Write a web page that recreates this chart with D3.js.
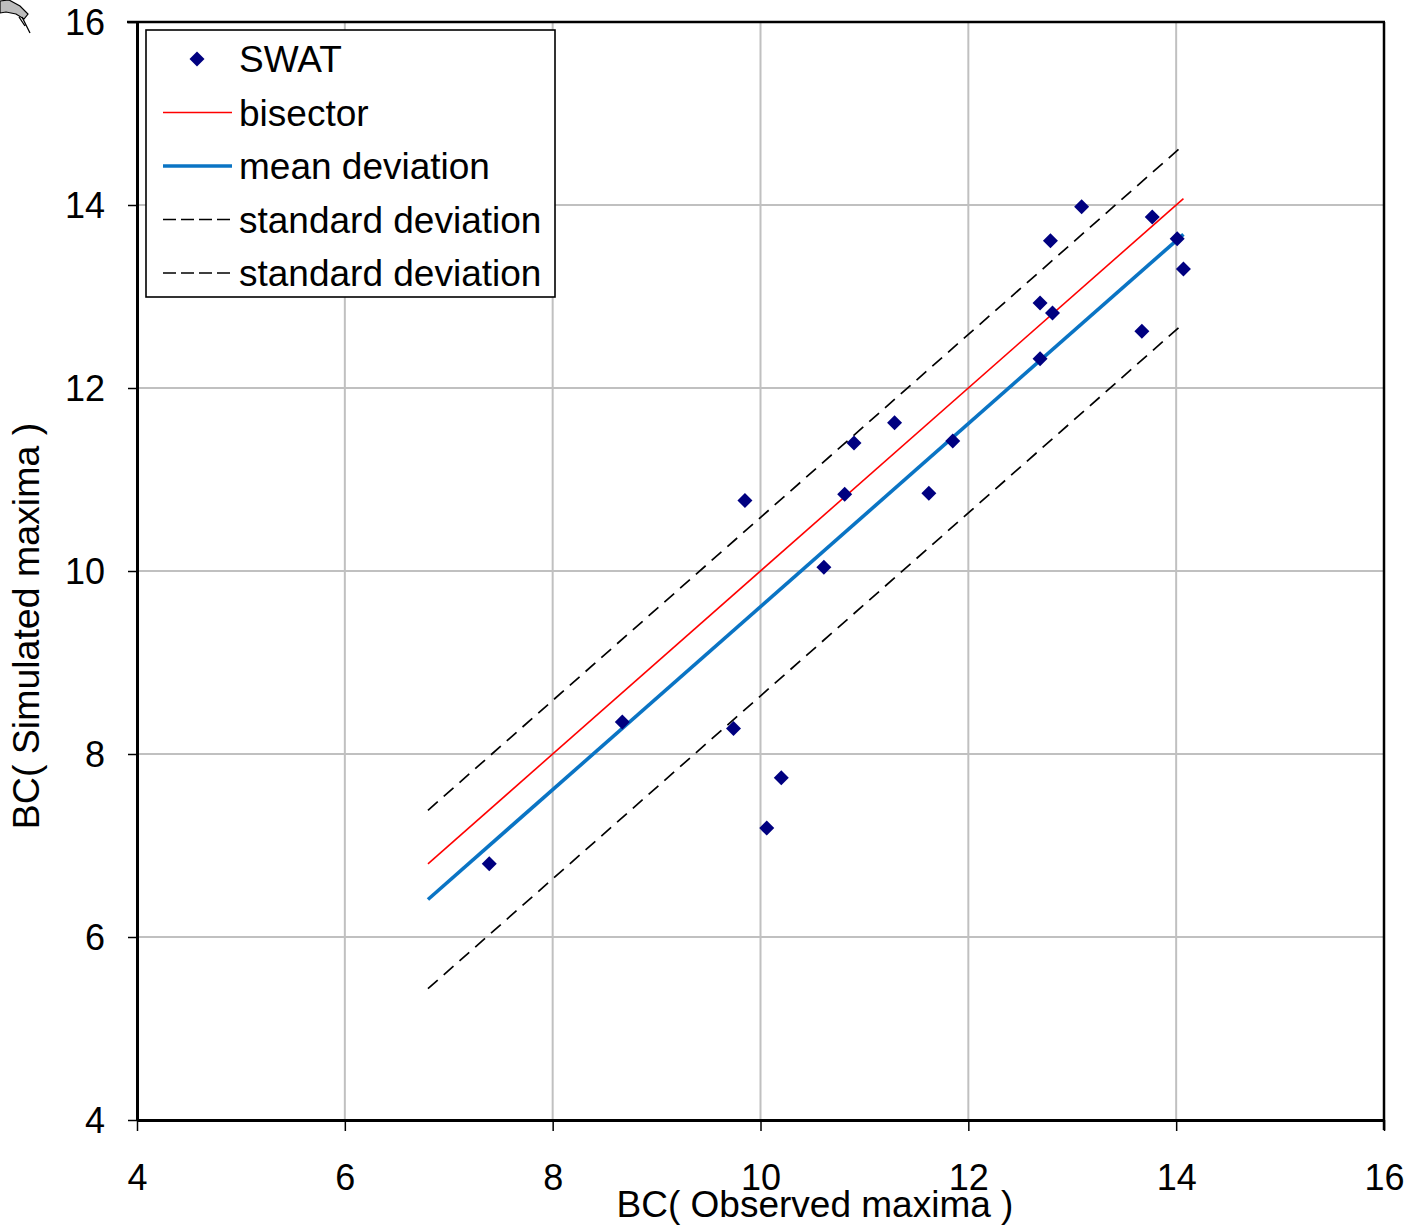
<!DOCTYPE html>
<html>
<head>
<meta charset="utf-8">
<script src="https://cdn.jsdelivr.net/npm/d3@7"></script>
<style>
  html, body { margin: 0; padding: 0; background: #fff; }
  svg { display: block; font-family: "Liberation Sans", Arial, sans-serif; }
</style>
</head>
<body>
<svg id="chart" width="1412" height="1227"></svg>
<script>
// ---- data ----
const observed  = [7.39, 8.67, 9.74, 9.85, 10.06, 10.20, 10.61, 10.81, 10.90, 11.29, 11.62, 11.85, 12.69, 12.69, 12.79, 12.81, 13.09, 13.67, 13.77, 14.01, 14.07];
const simulated = [6.80, 8.35, 8.28, 10.77, 7.19, 7.74, 10.04, 10.84, 11.40, 11.62, 10.85, 11.42, 12.32, 12.93, 13.61, 12.82, 13.98, 12.62, 13.87, 13.63, 13.30];
const lineRange = [6.80, 14.07];      // x extent of the reference lines
const meanDeviation = -0.39;          // offset of the mean-deviation line
const standardDeviation = 0.975;      // half-width of the dashed band
const xTicks = [4, 6, 8, 10, 12, 14, 16];
const yTicks = [4, 6, 8, 10, 12, 14, 16];
const legendLabels = ["SWAT", "bisector", "mean deviation", "standard deviation", "standard deviation"];
const xTitle = "BC( Observed maxima )";
const yTitle = "BC( Simulated maxima )";

(function () {
// ---- layout ----
const pL = 137, pR = 1384, pT = 22, pB = 1120;
const svg = d3.select("#chart");
const x = d3.scaleLinear().domain([4, 16]).range([pL, pR]);
const y = d3.scaleLinear().domain([4, 16]).range([pB, pT]);

const gridColor = "#c0c0c0";
const markerColor = "#000080";
const redColor = "#ff0000";
const blueColor = "#0a74c4";

// gridlines
svg.append("g").selectAll("line").data(xTicks.filter(t => t > 4 && t < 16)).join("line")
  .attr("x1", d => x(d)).attr("x2", d => x(d)).attr("y1", pT).attr("y2", pB)
  .attr("stroke", gridColor).attr("stroke-width", 2);
svg.append("g").selectAll("line").data(yTicks.filter(t => t > 4 && t < 16)).join("line")
  .attr("x1", pL).attr("x2", pR).attr("y1", d => y(d)).attr("y2", d => y(d))
  .attr("stroke", gridColor).attr("stroke-width", 2);

// frame (top & right)
svg.append("line").attr("x1", 127).attr("x2", pR + 1).attr("y1", pT).attr("y2", pT)
  .attr("stroke", "#000").attr("stroke-width", 2.5);
svg.append("line").attr("x1", pR).attr("x2", pR).attr("y1", pT).attr("y2", pB + 10)
  .attr("stroke", "#000").attr("stroke-width", 2.5);

// axes
const yAxis = svg.append("g").attr("transform", `translate(${pL},0)`)
  .call(d3.axisLeft(y).tickValues(yTicks).tickSize(9).tickSizeOuter(0).tickPadding(23));
const xAxis = svg.append("g").attr("transform", `translate(0,${pB})`)
  .call(d3.axisBottom(x).tickValues(xTicks).tickSize(11).tickSizeOuter(0).tickPadding(33));
[xAxis, yAxis].forEach(g => {
  g.select(".domain").attr("stroke", "#000").attr("stroke-width", 3);
  g.selectAll(".tick line").attr("stroke", "#000").attr("stroke-width", 1.5);
  g.selectAll(".tick text").attr("fill", "#000")
    .style("font-family", '"Liberation Sans", Arial, sans-serif').style("font-size", "36px");
});
yAxis.selectAll(".tick text").attr("dy", "0.36em");

// reference lines
const lineGen = d3.line().x(d => x(d[0])).y(d => y(d[1]));
const refLine = off => lineRange.map(v => [v, v + off]);
svg.append("path").attr("d", lineGen(refLine(meanDeviation + standardDeviation)))
  .attr("fill", "none").attr("stroke", "#000").attr("stroke-width", 1.7).attr("stroke-dasharray", "13,8");
svg.append("path").attr("d", lineGen(refLine(meanDeviation - standardDeviation)))
  .attr("fill", "none").attr("stroke", "#000").attr("stroke-width", 1.7).attr("stroke-dasharray", "13,8");
svg.append("path").attr("d", lineGen(refLine(0)))
  .attr("fill", "none").attr("stroke", redColor).attr("stroke-width", 1.6);
svg.append("path").attr("d", lineGen(refLine(meanDeviation)))
  .attr("fill", "none").attr("stroke", blueColor).attr("stroke-width", 3.6);

// points
const diamond = s => `M0,${-s}L${s},0L0,${s}L${-s},0Z`;
svg.append("g").selectAll("path").data(observed.map((o, i) => [o, simulated[i]])).join("path")
  .attr("transform", d => `translate(${x(d[0])},${y(d[1])})`)
  .attr("d", diamond(7.5)).attr("fill", markerColor);

// legend
const lg = svg.append("g");
lg.append("rect").attr("x", 146).attr("y", 30).attr("width", 409).attr("height", 267)
  .attr("fill", "#fff").attr("stroke", "#000").attr("stroke-width", 1.6);
const rowY = i => 59 + i * 53.5;
legendLabels.forEach((lab, i) => {
  const cy = rowY(i);
  if (i === 0) {
    lg.append("path").attr("transform", `translate(197,${cy})`).attr("d", diamond(7.5)).attr("fill", markerColor);
  } else {
    const ln = lg.append("line").attr("x1", 163).attr("x2", 232).attr("y1", cy).attr("y2", cy);
    if (i === 1) ln.attr("stroke", redColor).attr("stroke-width", 1.6);
    else if (i === 2) ln.attr("stroke", blueColor).attr("stroke-width", 3.6);
    else ln.attr("stroke", "#000").attr("stroke-width", 1.7).attr("stroke-dasharray", "13,5");
  }
  lg.append("text").attr("x", 239).attr("y", cy).attr("dy", "0.36em")
    .style("font-size", "37px").attr("fill", "#000").text(lab);
});

// axis titles
svg.append("text").attr("x", 815).attr("y", 1217).attr("text-anchor", "middle")
  .style("font-size", "37px").attr("fill", "#000").text(xTitle);
svg.append("text").attr("transform", "translate(39,626) rotate(-90)").attr("text-anchor", "middle")
  .style("font-size", "37.5px").attr("fill", "#000").text(yTitle);

// small decorative ribbon in the top-left corner
const deco = svg.append("g");
deco.append("path").attr("d", "M0,1 L9,0 L20,6 L28,14 L24,19 L16,14 L6,12 L0,13 Z")
  .attr("fill", "#bdbdbd").attr("stroke", "#000").attr("stroke-width", 1.2);
deco.append("path").attr("d", "M22,17 L30,33 M19,17 L25,26")
  .attr("fill", "none").attr("stroke", "#000").attr("stroke-width", 1.3);
})();
</script>
</body>
</html>
